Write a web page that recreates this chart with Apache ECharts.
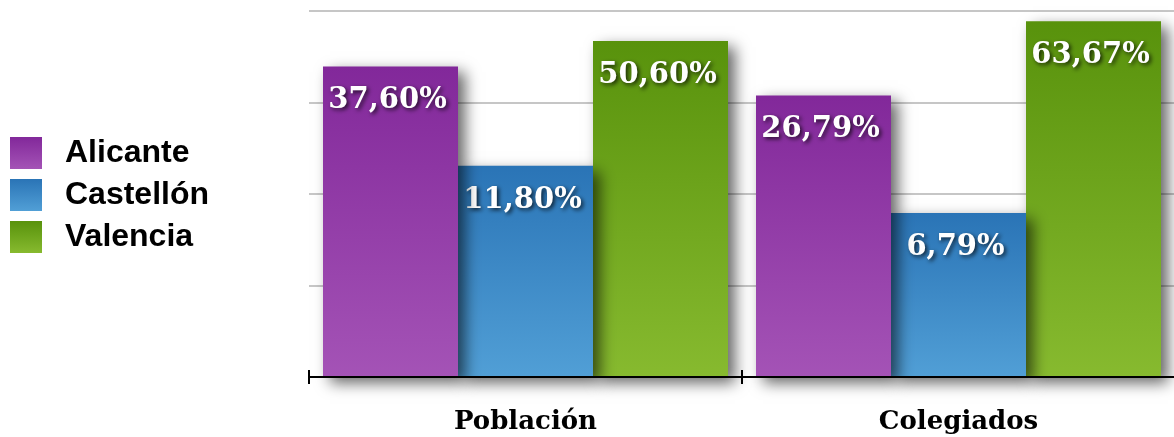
<!DOCTYPE html>
<html>
<head>
<meta charset="utf-8">
<script src="https://cdn.jsdelivr.net/npm/echarts@6/dist/echarts.min.js"></script>
<style>
  html, body { margin: 0; padding: 0; background: #ffffff; }
  #chart { width: 1174px; height: 437px; }
</style>
</head>
<body>
<div id="chart"></div>
<script>
// Share of population and of registered members per province (%)
const categories = ['Población', 'Colegiados'];
const seriesNames = ['Alicante', 'Castellón', 'Valencia'];
const alicante = [37.60, 26.79];
const castellon = [11.80, 6.79];
const valencia = [50.60, 63.67];

// Log scale: one grid step per power of the base, four steps up to the top line
const LOG_BASE = 2.911;
const AXIS_MAX = Math.pow(LOG_BASE, 4);

const palette = [
  ['#82289a', '#a453b6'],
  ['#2a74b6', '#519fd6'],
  ['#58920c', '#87ba2f']
];

function grad(c) {
  return new echarts.graphic.LinearGradient(0, 0, 0, 1, [
    { offset: 0, color: c[0] },
    { offset: 1, color: c[1] }
  ]);
}

function fmt(v) {
  return v.toFixed(2).replace('.', ',') + '%';
}

const dataSets = [alicante, castellon, valencia];

const series = seriesNames.map((name, i) => ({
  name: name,
  type: 'bar',
  xAxisIndex: 0,
  z: 5 - i,
  barWidth: 135,
  barGap: '0%',
  data: dataSets[i],
  itemStyle: {
    color: grad(palette[i]),
    shadowColor: 'rgba(0,0,0,0.6)',
    shadowBlur: 14,
    shadowOffsetX: 7,
    shadowOffsetY: 6
  },
  label: {
    show: true,
    position: 'insideTop',
    distance: 20,
    offset: [-3, 0],
    formatter: p => fmt(p.value),
    color: '#ffffff',
    fontFamily: '"DejaVu Serif", serif',
    fontWeight: 'bold',
    fontSize: 29,
    textShadowColor: 'rgba(0,0,0,0.75)',
    textShadowBlur: 4,
    textShadowOffsetX: 2,
    textShadowOffsetY: 2
  }
}));

const chart = echarts.init(document.getElementById('chart'), null, { renderer: 'canvas' });

chart.setOption({
  animation: false,
  backgroundColor: '#ffffff',
  legend: {
    orient: 'vertical',
    left: 5,
    top: 132,
    icon: 'rect',
    itemWidth: 32,
    itemHeight: 32,
    itemGap: 10,
    data: seriesNames,
    textStyle: {
      color: '#000000',
      fontFamily: '"Liberation Sans", Arial, sans-serif',
      fontWeight: 'bold',
      fontSize: 32,
      padding: [0, 0, 0, 18]
    }
  },
  grid: {
    left: 309,
    top: 11,
    width: 866,
    height: 366,
    outerBoundsMode: 'none'
  },
  xAxis: [
    {
      type: 'category',
      data: categories,
      z: 10,
      axisLine: { show: true, lineStyle: { color: '#000000', width: 2 } },
      axisTick: { show: true, length: 7, lineStyle: { color: '#000000', width: 2 } },
      axisLabel: {
        margin: 32,
        color: '#000000',
        fontFamily: '"DejaVu Serif", serif',
        fontWeight: 'bold',
        fontSize: 26
      },
      splitLine: { show: false }
    },
    {
      type: 'category',
      data: categories,
      position: 'bottom',
      z: 10,
      axisLine: { show: false },
      axisTick: { show: true, inside: true, length: 7, lineStyle: { color: '#000000', width: 2 } },
      axisLabel: { show: false },
      splitLine: { show: false }
    }
  ],
  yAxis: {
    type: 'log',
    logBase: LOG_BASE,
    min: 1,
    max: AXIS_MAX,
    axisLine: { show: false },
    axisTick: { show: false },
    axisLabel: { show: false },
    splitLine: { show: true, lineStyle: { color: '#c6c6c6', width: 2 } }
  },
  series: series
});
</script>
</body>
</html>
